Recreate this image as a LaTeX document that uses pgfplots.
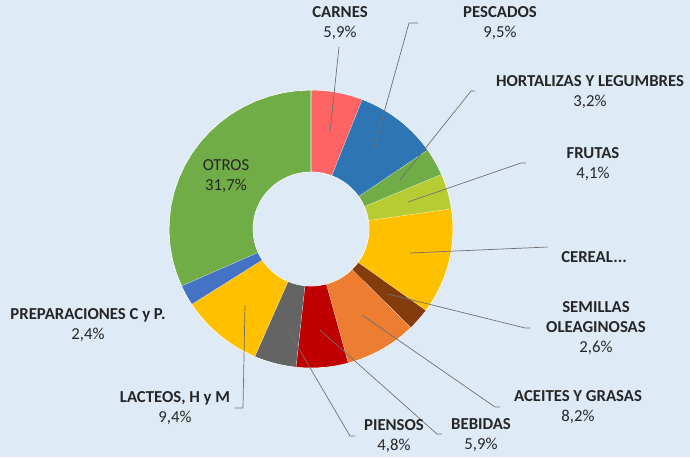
\documentclass[border=0pt]{standalone}
\usepackage{pgfplots}
\pgfplotsset{compat=1.18}
\usepackage{fontspec}
\setmainfont{Carlito}
\definecolor{bg}{HTML}{DEEBF7}
\definecolor{txt}{HTML}{262626}
\definecolor{lead}{HTML}{707070}
\definecolor{cCarnes}{HTML}{FF6464}
\definecolor{cPescados}{HTML}{2E75B6}
\definecolor{cHort}{HTML}{70AD47}
\definecolor{cFrutas}{HTML}{B7CC33}
\definecolor{cCereal}{HTML}{FFC000}
\definecolor{cSemillas}{HTML}{843C0C}
\definecolor{cAceites}{HTML}{ED7D31}
\definecolor{cBebidas}{HTML}{C00000}
\definecolor{cPiensos}{HTML}{646464}
\definecolor{cLacteos}{HTML}{FFC000}
\definecolor{cPrep}{HTML}{4472C4}
\definecolor{cOtros}{HTML}{70AD47}
% donut geometry in picture units (1 unit = 1bp)
\def\cx{311}\def\cy{229}\def\Rx{142}\def\Ry{139}\def\rx{58}\def\ry{57}
\gdef\cum{0}
\newcommand\slice[2]{%
  \pgfmathsetmacro\sa{\cum*3.6}%
  \pgfmathsetmacro\cumnew{\cum+#1}%
  \global\let\cum\cumnew
  \pgfmathsetmacro\sb{\cum*3.6}%
  \edef\doslice{\noexpand\addplot[fill=#2, draw=white, line width=0.6pt,
     samples at={0,1,...,41}]
     ({\cx+ifthenelse(x<=20, \Rx*sin(\sa+(\sb-\sa)*x/20), \rx*sin(\sb-(\sb-\sa)*(x-21)/20))},
      {\cy-ifthenelse(x<=20, \Ry*cos(\sa+(\sb-\sa)*x/20), \ry*cos(\sb-(\sb-\sa)*(x-21)/20))});}%
  \doslice
}
\begin{document}
\begin{tikzpicture}[lbl/.style={text=txt, align=center, font=\fontsize{16.8}{20}\selectfont, inner sep=0pt}]
\begin{axis}[
  scale only axis, width=690bp, height=457bp,
  xmin=0, xmax=690, ymin=0, ymax=457, y dir=reverse,
  hide axis, clip=false,
]
\addplot[fill=bg, draw=none] coordinates {(0,0) (690,0) (690,457) (0,457)} -- cycle;
% values in percent, clockwise from 12 o'clock
\slice{5.9}{cCarnes}
\slice{9.5}{cPescados}
\slice{3.2}{cHort}
\slice{4.1}{cFrutas}
\slice{12.3}{cCereal}
\slice{2.6}{cSemillas}
\slice{8.2}{cAceites}
\slice{5.9}{cBebidas}
\slice{4.8}{cPiensos}
\slice{9.4}{cLacteos}
\slice{2.4}{cPrep}
\slice{31.7}{cOtros}
% leader lines
\addplot[lead, line width=0.7pt] coordinates {(339,47) (330,132)};
\addplot[lead, line width=0.7pt] coordinates {(418,23) (409,23) (373,152)};
\addplot[lead, line width=0.7pt] coordinates {(475,91) (471,91) (400,180)};
\addplot[lead, line width=0.7pt] coordinates {(526,163) (521,163) (408,202)};
\addplot[lead, line width=0.7pt] coordinates {(548,247) (410,253)};
\addplot[lead, line width=0.7pt] coordinates {(530,328) (525,328) (388,294)};
\addplot[lead, line width=0.7pt] coordinates {(500,407) (495,407) (362,315)};
\addplot[lead, line width=0.7pt] coordinates {(442,434) (437,434) (320,330)};
\addplot[lead, line width=0.7pt] coordinates {(355,436) (350,436) (285,325)};
\addplot[lead, line width=0.7pt] coordinates {(235,408) (243,408) (245,305)};
% labels
\node[lbl] at (axis cs:340,23.5) {\textbf{CARNES}\\5,9\%};
\node[lbl] at (axis cs:500,23.5) {\textbf{PESCADOS}\\9,5\%};
\node[lbl] at (axis cs:590,92) {\textbf{HORTALIZAS Y LEGUMBRES}\\3,2\%};
\node[lbl] at (axis cs:593,164) {\textbf{FRUTAS}\\4,1\%};
\node[lbl] at (axis cs:594,257) {\textbf{CEREAL...}};
\node[lbl] at (axis cs:596,328) {\textbf{SEMILLAS}\\\textbf{OLEAGINOSAS}\\2,6\%};
\node[lbl] at (axis cs:578,407) {\textbf{ACEITES Y GRASAS}\\8,2\%};
\node[lbl] at (axis cs:481,435) {\textbf{BEBIDAS}\\5,9\%};
\node[lbl] at (axis cs:394,436) {\textbf{PIENSOS}\\4,8\%};
\node[lbl] at (axis cs:175,408) {\textbf{LACTEOS, H y M}\\9,4\%};
\node[lbl] at (axis cs:88,325) {\textbf{PREPARACIONES C y P.}\\2,4\%};
\node[lbl] at (axis cs:226,176) {OTROS\\31,7\%};
\end{axis}
\end{tikzpicture}
\end{document}
